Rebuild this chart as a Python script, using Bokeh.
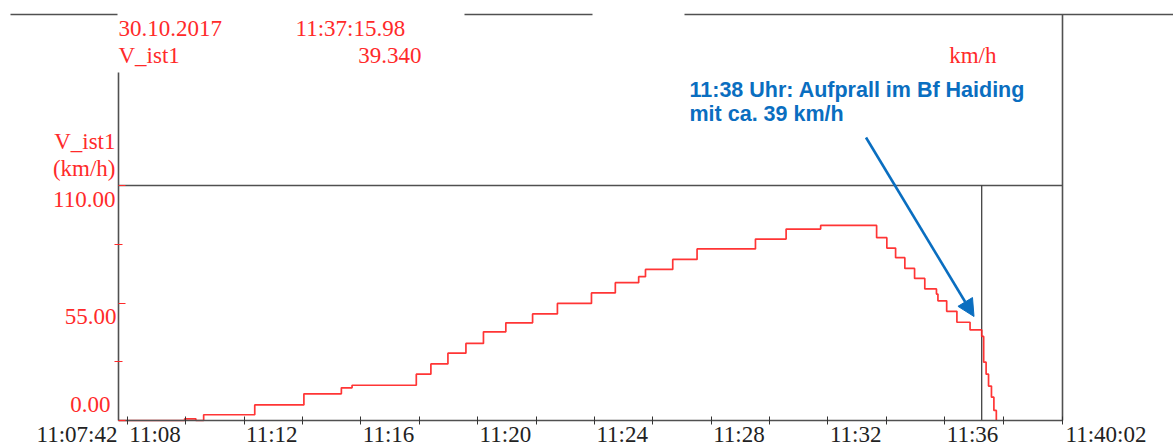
from datetime import datetime

from bokeh.core.properties import value
from bokeh.embed import file_html
from bokeh.models import (Arrow, DatetimeAxis, FixedTicker, LinearAxis, NormalHead,
                          Range1d)
from bokeh.plotting import figure
from bokeh.resources import INLINE

# ---------------------------------------------------------------- data
DAY = "2017-10-30"
DAY_LABEL = "30.10.2017"
SIGNAL = "V_ist1"
UNIT = "km/h"

record_start = "11:07:42"
record_end = "11:40:02"

cursor_time = "11:37:15.98"
cursor_speed = 39.340

# recorded speed V_ist1 (km/h), value holds until the next sample
sample_times = [
    "11:07:42", "11:09:58", "11:10:21", "11:10:37", "11:12:22", "11:14:03",
    "11:15:20", "11:15:42", "11:17:54", "11:18:24", "11:18:59", "11:19:36",
    "11:20:12", "11:20:58", "11:21:53", "11:22:44", "11:23:54", "11:24:43",
    "11:25:31", "11:25:45", "11:26:41", "11:27:31", "11:29:31", "11:30:34",
    "11:31:45", "11:33:40", "11:34:01", "11:34:19", "11:34:38", "11:34:58",
    "11:35:19", "11:35:43", "11:35:46", "11:36:04", "11:36:25", "11:36:52",
    "11:37:15.98", "11:37:20", "11:37:25", "11:37:30", "11:37:36", "11:37:41",
    "11:37:46",
]
speeds_kmh = [
    0.0, 0.8, 0.0, 2.7, 7.3, 12.5,
    15.3, 16.5, 21.7, 26.5, 31.5, 36.1,
    41.5, 45.7, 49.9, 54.8, 59.7, 64.5,
    67.3, 70.7, 75.4, 80.3, 84.9, 89.6,
    91.3, 85.6, 80.7, 76.2, 71.2, 66.5,
    61.6, 59.2, 56.0, 51.1, 46.0, 42.4,
    39.34, 27.3, 21.7, 16.1, 10.9, 4.7,
    0.0,
]

y_max = 110.0
y_labelled_ticks = [0.0, 55.0, 110.0]
y_minor_ticks = [27.5, 82.5]

x_labelled_ticks = ["11:08", "11:12", "11:16", "11:20", "11:24", "11:28", "11:32", "11:36"]
x_minor_ticks = ["11:10", "11:14", "11:18", "11:22", "11:26", "11:30", "11:34", "11:38"]

annotation_lines = ["11:38 Uhr: Aufprall im Bf Haiding", "mit ca. 39 km/h"]

# ---------------------------------------------------------------- layout
W, H = 1173, 448
LEFT, RIGHT, TOP, BOTTOM = 118, 1062, 185, 420   # plot box in page pixels

RED = "#ff2a2a"
BLUE = "#0a6ec0"
GREY = "#505050"
INK = "#222222"
SERIF = "Liberation Serif"
FS = "23px"


def to_ms(hms):
    fmt = "%Y-%m-%d %H:%M:%S.%f" if "." in hms else (
        "%Y-%m-%d %H:%M:%S" if hms.count(":") == 2 else "%Y-%m-%d %H:%M")
    dt = datetime.strptime(f"{DAY} {hms}", fmt)
    return (dt - datetime(1970, 1, 1)).total_seconds() * 1000.0


t0, t1 = to_ms(record_start), to_ms(record_end)
px_per_ms = (RIGHT - LEFT) / (t1 - t0)
px_per_kmh = (BOTTOM - TOP) / y_max


def X(px):
    """page pixel column -> time (ms)"""
    return t0 + (px - LEFT) / px_per_ms


def Y(py):
    """page pixel row -> speed (km/h)"""
    return (BOTTOM - py) / px_per_kmh


p = figure(
    width=W, height=H,
    x_range=Range1d(X(0), X(W)), y_range=Range1d(Y(H), Y(0)),
    x_axis_type="datetime", x_axis_location=None, y_axis_location=None,
    toolbar_location=None, output_backend="svg", min_border=0,
)
p.outline_line_color = None
p.grid.visible = False
p.background_fill_color = "white"
p.border_fill_color = "white"

# ---------------------------------------------------------------- axes
# tick marks come from the axes, the tick texts are set separately below
x_tick_ms = [to_ms(t) for t in x_labelled_ticks + x_minor_ticks] + [t1]
xaxis = DatetimeAxis(
    fixed_location=0.0, bounds=(t0, t1),
    ticker=FixedTicker(ticks=[], minor_ticks=sorted(x_tick_ms)),
    axis_line_color=GREY, axis_line_width=1.6,
    minor_tick_line_color="#333333", minor_tick_in=4, minor_tick_out=4,
)
p.add_layout(xaxis, "below")

yaxis = LinearAxis(
    fixed_location=t0, bounds=(0.0, Y(72)),
    ticker=FixedTicker(ticks=[], minor_ticks=y_minor_ticks),
    axis_line_color=GREY, axis_line_width=1.6,
    minor_tick_line_color=RED, minor_tick_in=4, minor_tick_out=4,
)
p.add_layout(yaxis, "left")

ymajor = LinearAxis(
    fixed_location=t0, bounds=(0.0, y_max),
    ticker=FixedTicker(ticks=[], minor_ticks=y_labelled_ticks),
    axis_line_color=None,
    minor_tick_line_color=RED, minor_tick_line_width=1.2,
    minor_tick_in=7, minor_tick_out=0,
)
p.add_layout(ymajor, "left")

# y tick labels, set under their tick (the lowest one above it)
p.text(x=[t0] * 3, y=y_labelled_ticks, text=[f"{v:.2f}" for v in y_labelled_ticks],
       x_offset=[-8, -2, -3], y_offset=[-16, 13, 14],
       text_align="right", text_baseline="alphabetic",
       text_font=value(SERIF), text_font_size=FS, text_color=RED)

# time labels, starting at their tick
p.text(x=[to_ms(t) for t in x_labelled_ticks], y=[0.0] * len(x_labelled_ticks),
       text=x_labelled_ticks, x_offset=2, y_offset=14,
       text_align="left", text_baseline="alphabetic", text_font=value(SERIF),
       text_font_size=FS, text_color=INK)

# range end labels of the time axis
p.text(x=[t0, t1], y=[0.0, 0.0], text=[record_start, record_end],
       x_offset=[-1, 3], y_offset=[14, 14], text_align=["right", "left"],
       text_baseline="alphabetic", text_font=value(SERIF),
       text_font_size=FS, text_color=INK)

# y axis title
p.text(x=[t0, t0], y=[Y(141), Y(168)], text=[SIGNAL, f"({UNIT})"], x_offset=-3,
       text_align="right", text_baseline="alphabetic", text_font=value(SERIF),
       text_font_size=FS, text_color=RED)

# ---------------------------------------------------------------- frame lines
p.segment(x0=[t0, t1], y0=[y_max, 0.0], x1=[t1, t1], y1=[y_max, Y(14)],
          line_color=GREY, line_width=1.6)
p.segment(x0=[X(10), X(464), X(684)], y0=[Y(14)] * 3,
          x1=[X(117), X(592), X(W)], y1=[Y(14)] * 3,
          line_color=GREY, line_width=1.6)

# cursor
t_cursor = to_ms(cursor_time)
p.segment(x0=[t_cursor], y0=[0.0], x1=[t_cursor], y1=[y_max],
          line_color="#333333", line_width=1.2)

# ---------------------------------------------------------------- series
p.step(x=[to_ms(t) for t in sample_times], y=speeds_kmh, mode="after",
       line_color="#ff1f1f", line_width=1.7, line_alpha=0.9)

# ---------------------------------------------------------------- header
p.text(x=[t0, X(295)], y=[Y(28)] * 2, text=[DAY_LABEL, cursor_time],
       text_align="left", text_baseline="alphabetic", text_font=value(SERIF),
       text_font_size=FS, text_color=RED)
p.text(x=[t0], y=[Y(55)], text=[SIGNAL], text_align="left",
       text_baseline="alphabetic", text_font=value(SERIF),
       text_font_size=FS, text_color=RED)
p.text(x=[X(421), X(996)], y=[Y(55)] * 2, text=[f"{cursor_speed:.3f}", UNIT],
       text_align="right", text_baseline="alphabetic", text_font=value(SERIF),
       text_font_size=FS, text_color=RED)

# ---------------------------------------------------------------- annotation
p.text(x=[X(689)] * 2, y=[Y(89), Y(113)], text=annotation_lines,
       text_align="left", text_baseline="alphabetic",
       text_font=value("Liberation Sans"), text_font_style="bold",
       text_font_size="21.5px", text_color=BLUE)
p.add_layout(Arrow(x_start=X(865.5), y_start=Y(137), x_end=X(973.5), y_end=Y(316),
                   line_color=BLUE, line_width=2.6,
                   end=NormalHead(size=17, fill_color=BLUE, line_color=BLUE)))

open("out.html", "w").write(file_html(p, INLINE))
